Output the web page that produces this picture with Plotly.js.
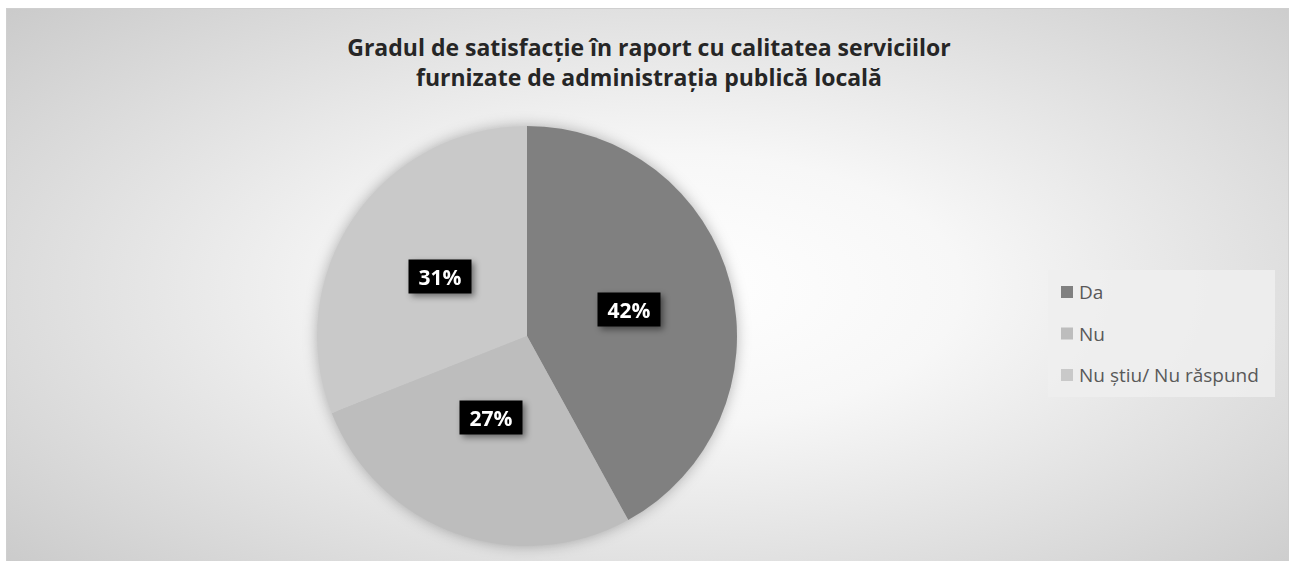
<!DOCTYPE html>
<html>
<head>
<meta charset="utf-8">
<script src="https://cdn.plot.ly/plotly-3.0.1.min.js"></script>
<style>
  html, body { margin: 0; padding: 0; background: #ffffff; }
  #frame {
    position: absolute; left: 6px; top: 8px; width: 1283px; height: 560px;
    box-sizing: border-box; border: 1px solid #cfcfcf;
    background: radial-gradient(ellipse 75% 80% at 52% 50%, #ffffff 0%, #f7f7f7 30%, #e2e2e2 60%, #c6c6c6 100%);
  }
  #chart { position: absolute; left: 0; top: 0; width: 1296px; height: 561px; }
  #chart .pielayer { filter: drop-shadow(0px 0px 7px rgba(0,0,0,0.28)); }
  #chart .annotation[data-index="0"],
  #chart .annotation[data-index="1"],
  #chart .annotation[data-index="2"] { filter: drop-shadow(3px 3px 3px rgba(0,0,0,0.45)); }
</style>
</head>
<body>
<div id="frame"></div>
<div id="chart"></div>
<script>
const titleText = "Gradul de satisfacție în raport cu calitatea serviciilor<br>furnizate de administrația publică locală";
const categories = ["Da", "Nu", "Nu știu/ Nu răspund"];
const values = [42, 27, 31];
const colors = ["#808080", "#bdbdbd", "#c9c9c9"];

const W = 1296, H = 561;
const cx = 527, cy = 336, R = 210;   // pie placement in pixels
const dom = {
  x: [(cx - R) / W, (cx + R) / W],
  y: [(H - cy - R) / H, (H - cy + R) / H]
};

// data labels placed at slice mid-angles
const total = values.reduce((a, b) => a + b, 0);
const annotations = [];
let cum = 0;
values.forEach((v, i) => {
  const mid = (cum + v / 2) / total * 2 * Math.PI;
  cum += v;
  const px = cx + 0.5 * R * Math.sin(mid);
  const py = cy - 0.5 * R * Math.cos(mid);
  annotations.push({
    x: px / W, y: 1 - py / H, xref: "paper", yref: "paper",
    text: "<b>" + Math.round(v / total * 100) + "%</b>",
    showarrow: false, bgcolor: "#000000", borderpad: 0,
    width: 62, height: 33, align: "center", valign: "middle",
    font: { family: "'Open Sans', sans-serif", size: 21, color: "#ffffff" }
  });
});

// custom legend
const shapes = [];
const legX = 1061, legY0 = 292, legStep = 41.5;
shapes.push({ type: "rect", xref: "paper", yref: "paper",
  x0: 1048 / W, x1: 1275 / W, y0: 1 - 397 / H, y1: 1 - 270 / H,
  fillcolor: "rgba(238,238,238,0.85)", line: { width: 0 }, layer: "below" });
categories.forEach((c, i) => {
  const yy = legY0 + i * legStep;
  shapes.push({ type: "rect", xref: "paper", yref: "paper",
    x0: legX / W, x1: (legX + 12) / W, y0: 1 - (yy + 6) / H, y1: 1 - (yy - 6) / H,
    fillcolor: colors[i], line: { width: 0 } });
  annotations.push({ x: (legX + 16) / W, y: 1 - yy / H, xref: "paper", yref: "paper",
    xanchor: "left", yanchor: "middle", text: c, showarrow: false,
    font: { family: "'Open Sans', sans-serif", size: 19, color: "#595959" } });
});

const data = [{
  type: "pie",
  labels: categories,
  values: values,
  marker: { colors: colors, line: { width: 0 } },
  sort: false,
  direction: "clockwise",
  rotation: 0,
  textinfo: "none",
  hoverinfo: "label+percent",
  domain: dom,
  showlegend: false
}];

const layout = {
  width: W, height: H,
  margin: { l: 0, r: 0, t: 0, b: 0 },
  paper_bgcolor: "rgba(0,0,0,0)",
  plot_bgcolor: "rgba(0,0,0,0)",
  title: {
    text: "<b>" + titleText + "</b>",
    x: 649 / W, xanchor: "center",
    y: 1 - 56 / H, yanchor: "top",
    font: { family: "'Open Sans', sans-serif", size: 23, color: "#262626" }
  },
  showlegend: false,
  annotations: annotations,
  shapes: shapes
};

Plotly.newPlot("chart", data, layout, { displayModeBar: false, staticPlot: true });
</script>
</body>
</html>
